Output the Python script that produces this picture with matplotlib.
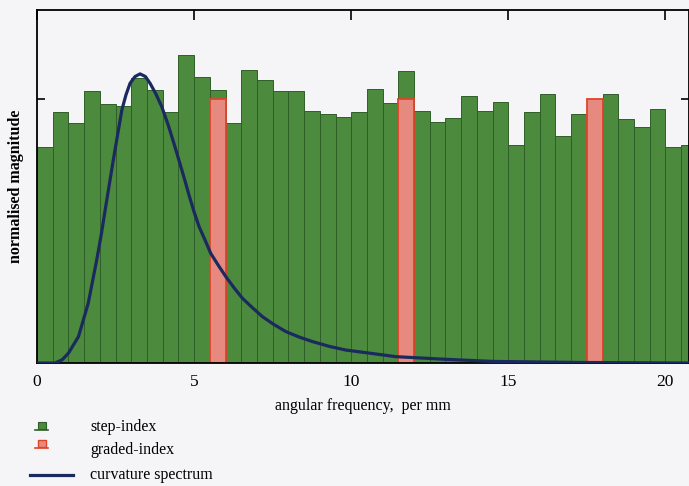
import numpy as np
import matplotlib
matplotlib.use("Agg")
import matplotlib.pyplot as plt
from matplotlib.patches import Rectangle
from matplotlib.lines import Line2D

plt.rcParams['font.family'] = ['Liberation Serif', 'DejaVu Serif']

# bars: left edge of each 0.5-wide bin
bin_w = 0.5
step_left = np.arange(42) * bin_w
step_h = [0.82, 0.95, 0.91, 1.03, 0.98, 0.975, 1.08, 1.035, 0.95, 1.168,
          1.082, 1.035, 0.908, 1.11, 1.07, 1.03, 1.03, 0.956, 0.943, 0.932,
          0.95, 1.037, 0.984, 1.106, 0.956, 0.914, 0.927, 1.013, 0.956, 0.987,
          0.824, 0.95, 1.019, 0.861, 0.943, 0.98, 1.019, 0.924, 0.893, 0.962,
          0.819, 0.826]
graded_left = [5.5, 11.5, 17.5]
graded_h = [1.0, 1.0, 1.0]

# curvature spectrum
curv_x = [0, 0.57, 0.8, 1.0, 1.32, 1.63, 1.90, 2.05, 2.17, 2.43, 2.70, 2.83,
          2.96, 3.12, 3.28, 3.45, 3.60, 3.78, 3.97, 4.18, 4.39, 4.55, 4.71,
          4.84, 5.0, 5.16, 5.35, 5.53, 5.77, 6.01, 6.27, 6.54, 6.85, 7.18, 7.55,
          7.92, 8.35, 8.77, 9.3, 9.83, 10.79, 11.42, 13.0, 14.5, 17.26, 20.75]
curv_y = [0, 0.0, 0.012, 0.037, 0.10, 0.226, 0.39, 0.49, 0.58, 0.77, 0.958,
          1.015, 1.059, 1.085, 1.095, 1.085, 1.059, 1.02, 0.971, 0.9, 0.819,
          0.755, 0.69, 0.635, 0.572, 0.516, 0.465, 0.415, 0.37, 0.327, 0.285,
          0.245, 0.21, 0.175, 0.145, 0.119, 0.098, 0.081, 0.063, 0.049, 0.034,
          0.024, 0.014, 0.006, 0.002, 0.0]

W, H = 689, 486
bg = '#f5f5f7'
green = '#4c8a3e'
green_edge = '#2f5f29'
red = '#e68a80'
red_edge = '#e0442a'
navy = '#1b2a5e'

fig = plt.figure(figsize=(W / 100, H / 100), dpi=100, facecolor=bg)
ax = fig.add_axes([37 / W, 1 - 363 / H, (689 - 37) / W, (363 - 10) / H])
ax.set_facecolor(bg)

ax.bar(step_left, step_h, width=bin_w, align='edge', color=green,
       edgecolor=green_edge, linewidth=0.7, zorder=1)
ax.bar(graded_left, graded_h, width=bin_w, align='edge', color=red,
       edgecolor=red_edge, linewidth=1.3, zorder=2)
ax.plot(curv_x, curv_y, color=navy, lw=2.3, zorder=3, solid_joinstyle='round')

ax.set_xlim(0, 20.75)
ax.set_ylim(0, 1.337)
ax.set_xticks([0, 5, 10, 15, 20])
ax.set_yticks([1])
ax.set_yticklabels([])
ax.tick_params(axis='x', direction='in', length=7, width=1.2, top=True,
               labelsize=12.5, pad=8)
ax.tick_params(axis='y', direction='in', length=6, width=1.2, right=True)
for t in ax.xaxis.get_major_ticks():
    t.tick1line.set_visible(False)
for s in ax.spines.values():
    s.set_linewidth(1.3)

ax.set_xlabel('angular frequency,  per mm', fontsize=11.5, labelpad=6)
ax.set_ylabel('normalised magnitude', fontsize=11.5, fontweight='bold',
              labelpad=6)

# legend drawn below the axes
def fx(x):
    return x / W

def fy(y):
    return 1 - y / H

entries = [('step-index', 427), ('graded-index', 450), ('curvature spectrum', 475)]
for (label, yy) in entries:
    fig.text(fx(90), fy(yy), label, fontsize=11.5, va='center', ha='left')

fig.add_artist(Rectangle((fx(38), fy(429)), 8 / W, 7 / H, transform=fig.transFigure,
                         facecolor=green, edgecolor=green_edge, lw=0.8))
fig.add_artist(Line2D([fx(35), fx(48)], [fy(429.5), fy(429.5)],
                      transform=fig.transFigure, color=green_edge, lw=1.2))
fig.add_artist(Rectangle((fx(38), fy(447)), 8 / W, 7 / H, transform=fig.transFigure,
                         facecolor=red, edgecolor=red_edge, lw=1.0))
fig.add_artist(Line2D([fx(35), fx(48)], [fy(447.5), fy(447.5)],
                      transform=fig.transFigure, color=red_edge, lw=1.2))
fig.add_artist(Line2D([fx(30), fx(73)], [fy(475), fy(475)],
                      transform=fig.transFigure, color=navy, lw=2.3))

fig.savefig('out.png', dpi=100, facecolor=bg)
